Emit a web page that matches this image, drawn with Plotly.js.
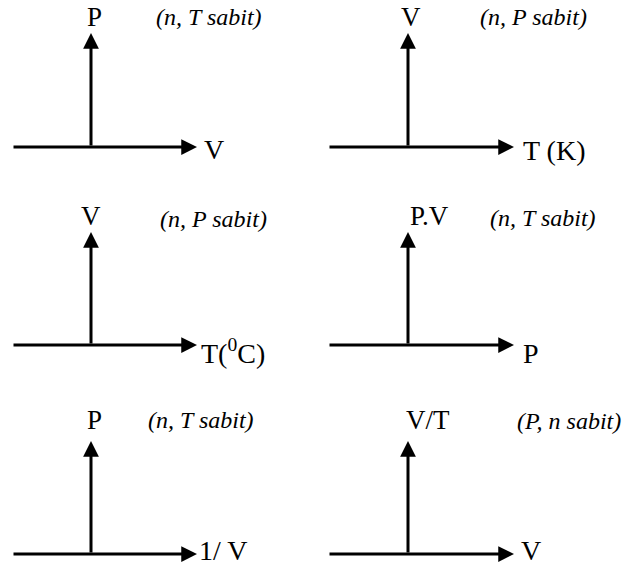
<!DOCTYPE html>
<html>
<head>
<meta charset="utf-8">
<script src="https://cdn.plot.ly/plotly-3.0.1.min.js"></script>
<style>html,body{margin:0;padding:0;background:#fff;}#chart{width:644px;height:568px;}</style>
</head>
<body>
<div id="chart"></div>
<script>
// ---- content (one entry per small diagram, reading order) ----
const yAxisLabels = ['P', 'V', 'V', 'P.V', 'P', 'V/T'];
const xAxisLabels = ['V', 'T (K)', 'T(<sup>0</sup>C)', 'P', '1/ V', 'V'];
const conditions  = ['(n, T sabit)', '(n, P sabit)', '(n, P sabit)', '(n, T sabit)', '(n, T sabit)', '(P, n sabit)'];

// ---- layout geometry (pixel-like data coordinates) ----
const colOriginX = [91, 408];
const colStartX  = [12, 328];
const colTipX    = [197, 514];
const rowOriginY = [147, 345, 554];
const rowTipY    = [33, 232, 441];
const yLabelDx   = [3, 3, 0, 21, 3, 20];
const yLabelY    = [17, 216, 420];
const condX      = [154, 478, 158, 488, 146, 515];
const condY      = [17, 17, 219, 218, 420, 421];
const xLabelX    = [202, 521, 199, 521, 197, 519];
const xLabelY    = [149, 150, 351, 353, 550, 550];

const serif = 'Liberation Serif';
const annotations = [];
const lineW = 3;

for (let i = 0; i < 6; i++) {
  const c = i % 2, r = Math.floor(i / 2);
  const ox = colOriginX[c], oy = rowOriginY[r];
  annotations.push({x: colTipX[c], y: oy, ax: colStartX[c], ay: oy, xref: 'x', yref: 'y', axref: 'x', ayref: 'y',
    showarrow: true, arrowhead: 2, arrowsize: 1.05, arrowwidth: lineW, arrowcolor: '#000', text: ''});
  annotations.push({x: ox, y: rowTipY[r], ax: ox, ay: oy, xref: 'x', yref: 'y', axref: 'x', ayref: 'y',
    showarrow: true, arrowhead: 2, arrowsize: 1.05, arrowwidth: lineW, arrowcolor: '#000', text: ''});
  annotations.push({x: ox + yLabelDx[i], y: yLabelY[r], xref: 'x', yref: 'y', text: yAxisLabels[i], showarrow: false,
    xanchor: 'center', yanchor: 'middle', font: {family: serif, size: 27, color: '#000'}});
  annotations.push({x: condX[i], y: condY[i], xref: 'x', yref: 'y', text: '<i>' + conditions[i] + '</i>', showarrow: false,
    xanchor: 'left', yanchor: 'middle', font: {family: serif, size: 24, color: '#000'}});
  annotations.push({x: xLabelX[i], y: xLabelY[i], xref: 'x', yref: 'y', text: xAxisLabels[i], showarrow: false,
    xanchor: 'left', yanchor: 'middle', font: {family: serif, size: 28, color: '#000'}});
}

const layout = {
  width: 644, height: 568,
  margin: {l: 0, r: 0, t: 0, b: 0, pad: 0},
  paper_bgcolor: '#fff', plot_bgcolor: '#fff',
  showlegend: false,
  xaxis: {range: [0, 644], visible: false, fixedrange: true},
  yaxis: {range: [568, 0], visible: false, fixedrange: true},
  annotations: annotations
};

Plotly.newPlot('chart', [{x: [], y: [], type: 'scatter', mode: 'lines', hoverinfo: 'skip'}], layout, {staticPlot: true, displayModeBar: false});
</script>
</body>
</html>
